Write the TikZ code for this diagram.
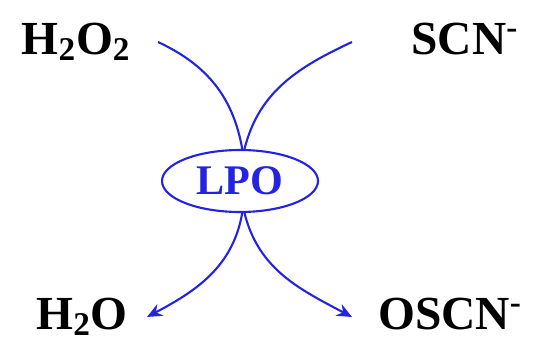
\documentclass[tikz,border=0pt]{standalone}
\usepackage{fontspec}
\setmainfont{Liberation Serif}
\usepackage{xcolor}
\usetikzlibrary{arrows.meta,shapes.geometric}
\definecolor{lpoblue}{RGB}{35,35,225}

\begin{document}
\begin{tikzpicture}[>={Stealth[length=3mm,width=2.6mm]}, line width=1.2pt,
  chem/.style={font=\fontsize{27}{31}\selectfont\bfseries, anchor=base, inner sep=0pt},
  enz/.style={draw=lpoblue, ellipse, text=lpoblue, font=\fontsize{24}{28}\selectfont\bfseries,
    minimum width=31.2mm, minimum height=12.4mm, inner sep=0pt},
  flow/.style={draw=lpoblue}]
\useasboundingbox (0,0) rectangle (10.74,6.86);
%% species
\node[chem] (h2o2) at (1.52,5.78) {H\textsubscript{2}O\textsubscript{2}};
\node[chem] (scn) at (9.3,5.78) {SCN\textsuperscript{-}};
\node[chem] (h2o) at (1.64,0.28) {H\textsubscript{2}O};
\node[chem] (oscn) at (9.0,0.28) {OSCN\textsuperscript{-}};
%% enzyme
\node[enz] (lpo) at (4.8,3.24) {LPO};
%% curve ends
\coordinate (a1) at (3.16,6.02);
\coordinate (a2) at (7.04,6.02);
\coordinate (b1) at (2.94,0.52);
\coordinate (b2) at (7.04,0.52);
\draw[flow] (a1) to[out=-25,in=100] (lpo.86);
\draw[flow] (a2) to[out=205,in=76] (lpo.82);
\draw[flow,->] (lpo.-86) to[out=-100,in=28] (b1);
\draw[flow,->] (lpo.-82) to[out=-76,in=152] (b2);
\end{tikzpicture}
\end{document}
